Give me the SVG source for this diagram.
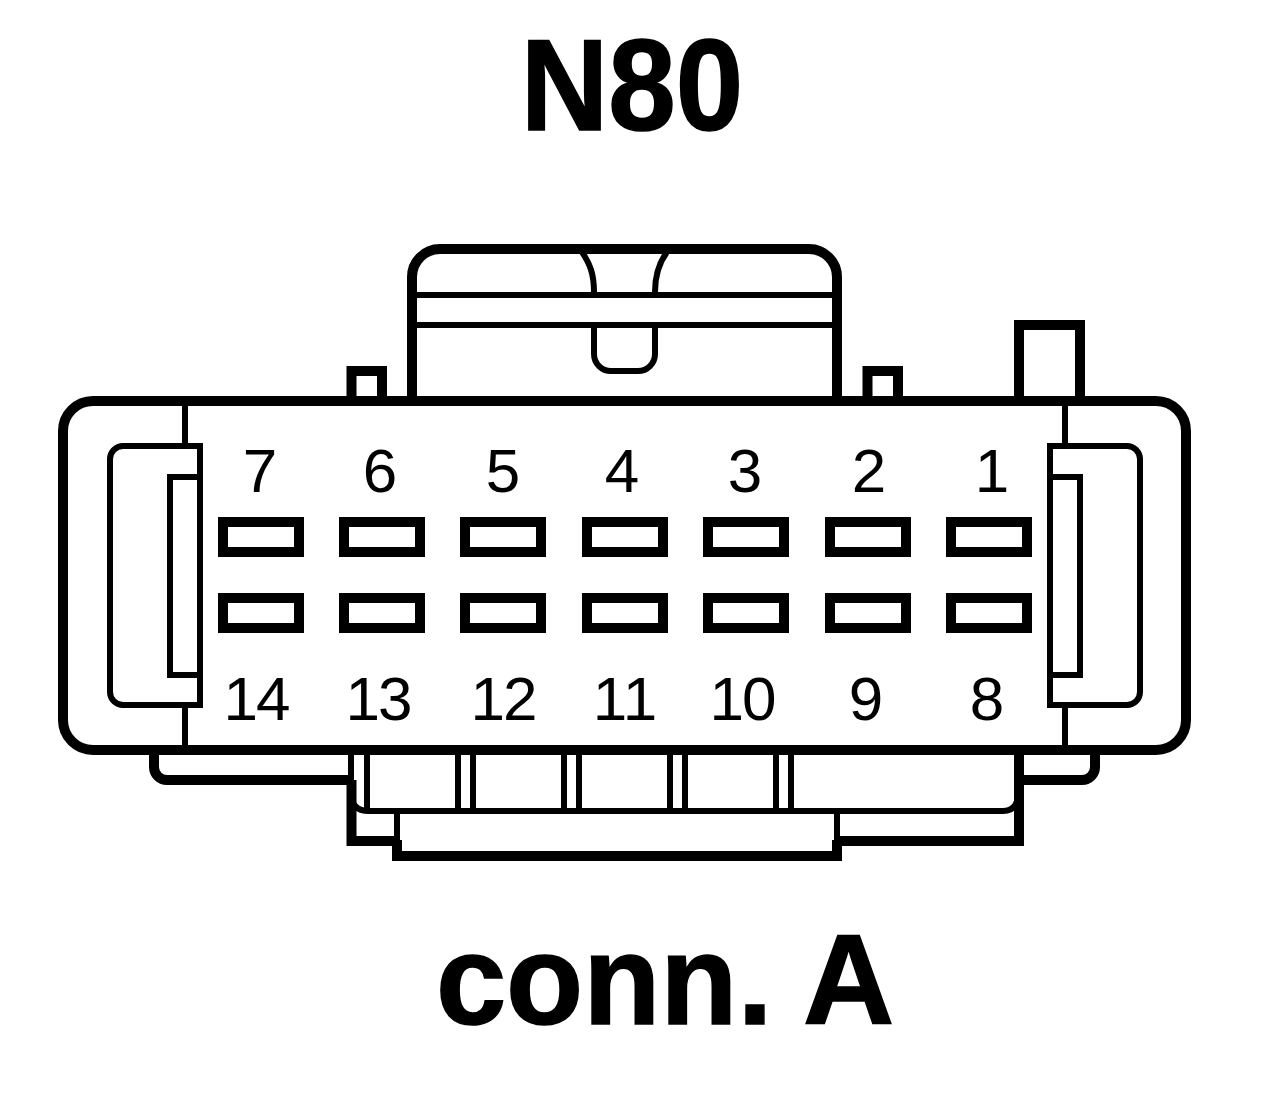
<svg xmlns="http://www.w3.org/2000/svg" width="1264" height="1120" viewBox="0 0 1264 1120">
<style>
.s10{fill:none;stroke:#000;stroke-width:10}
.s6{fill:none;stroke:#000;stroke-width:6}
.pin{fill:#fff;stroke:#000;stroke-width:10}
.num{font-family:"Liberation Sans",Arial,sans-serif;font-size:62px;fill:#000;text-anchor:middle}
.tw{letter-spacing:-2px}
.title{font-family:"Liberation Sans",Arial,sans-serif;font-weight:bold;font-size:125px;fill:#000;stroke:#000;stroke-width:1.500px;text-anchor:middle}
</style>
<defs><rect id="p" width="76" height="30" class="pin"/></defs>
<rect width="1264" height="1120" fill="#fff"/>
<g id="housing-top">
<path class="s10" d="M412 401V277A28 28 0 0 1 440 249H809A28 28 0 0 1 837 277V401"/>
<path class="s6" d="M415 295H834M415 325H834"/>
<path class="s6" d="M582 252C590 264 594 274 594 292M667 252C658 264 655 276 655 292"/>
<path class="s6" d="M594 328V354A17 17 0 0 0 611 371H638A17 17 0 0 0 655 354V328"/>
<path class="s10" d="M351.500 401V371H382V401"/>
<path class="s10" d="M867.500 401V371H898V401"/>
<path class="s10" d="M1019 401V325H1080V401"/>
</g>
<g id="housing-bottom">
<path class="s10" d="M154 755V767A13 13 0 0 0 167 780H351"/>
<path class="s10" d="M1019 780H1082A13 13 0 0 0 1095 767V755"/>
<path class="s10" d="M351.500 780V841H397"/>
<path class="s10" d="M1019 755V841H837"/>
<path class="s6" d="M351 755V793Q351 811 369 811H1003Q1016 811 1018 797"/>
<path class="s6" d="M367 755V811M458 755V811M473 755V811M564 755V811M579 755V811M670 755V811M685 755V811M776 755V811M791 755V811"/>
<path class="s6" d="M397 814V842M837 814V842"/>
<path class="s10" d="M397 840V856H837V840"/>
</g>
<g id="body">
<rect x="63" y="401" width="1123" height="349" rx="30" class="s10"/>
<path class="s6" d="M185 401V446M185 705V750M1065 401V446M1065 705V750"/>
</g>
<g id="clip-left">
<path class="s6" d="M200 446H123A13 13 0 0 0 110 459V692A13 13 0 0 0 123 705H200Z"/>
<path class="s6" d="M200 477H170V675H200"/>
</g>
<g id="clip-right">
<path class="s6" d="M1050 446H1127A13 13 0 0 1 1140 459V692A13 13 0 0 1 1127 705H1050Z"/>
<path class="s6" d="M1050 477H1080V675H1050"/>
</g>
<g id="pins">
<use href="#p" x="223" y="522"/><use href="#p" x="344" y="522"/><use href="#p" x="465" y="522"/><use href="#p" x="587" y="522"/><use href="#p" x="708" y="522"/><use href="#p" x="830" y="522"/><use href="#p" x="951" y="522"/>
<use href="#p" x="223" y="598"/><use href="#p" x="344" y="598"/><use href="#p" x="465" y="598"/><use href="#p" x="587" y="598"/><use href="#p" x="708" y="598"/><use href="#p" x="830" y="598"/><use href="#p" x="951" y="598"/>
</g>
<g id="labels">
<text class="num" x="260" y="492">7</text><text class="num" x="380" y="492">6</text><text class="num" x="503" y="492">5</text><text class="num" x="622" y="492">4</text><text class="num" x="745" y="492">3</text><text class="num" x="869" y="492">2</text><text class="num" x="992" y="492">1</text>
<text class="num tw" x="256" y="720">14</text><text class="num tw" x="378" y="720">13</text><text class="num tw" x="503" y="720">12</text><text class="num" x="625" y="720">11</text><text class="num tw" x="742" y="720">10</text><text class="num" x="866" y="720">9</text><text class="num" x="987" y="720">8</text>
</g>
<g id="titles">
<text class="title" transform="translate(632 130) scale(.97 1.04)">N80</text>
<text class="title" transform="translate(665 1024) scale(1.01 1.03)">conn. A</text>
</g>
</svg>
